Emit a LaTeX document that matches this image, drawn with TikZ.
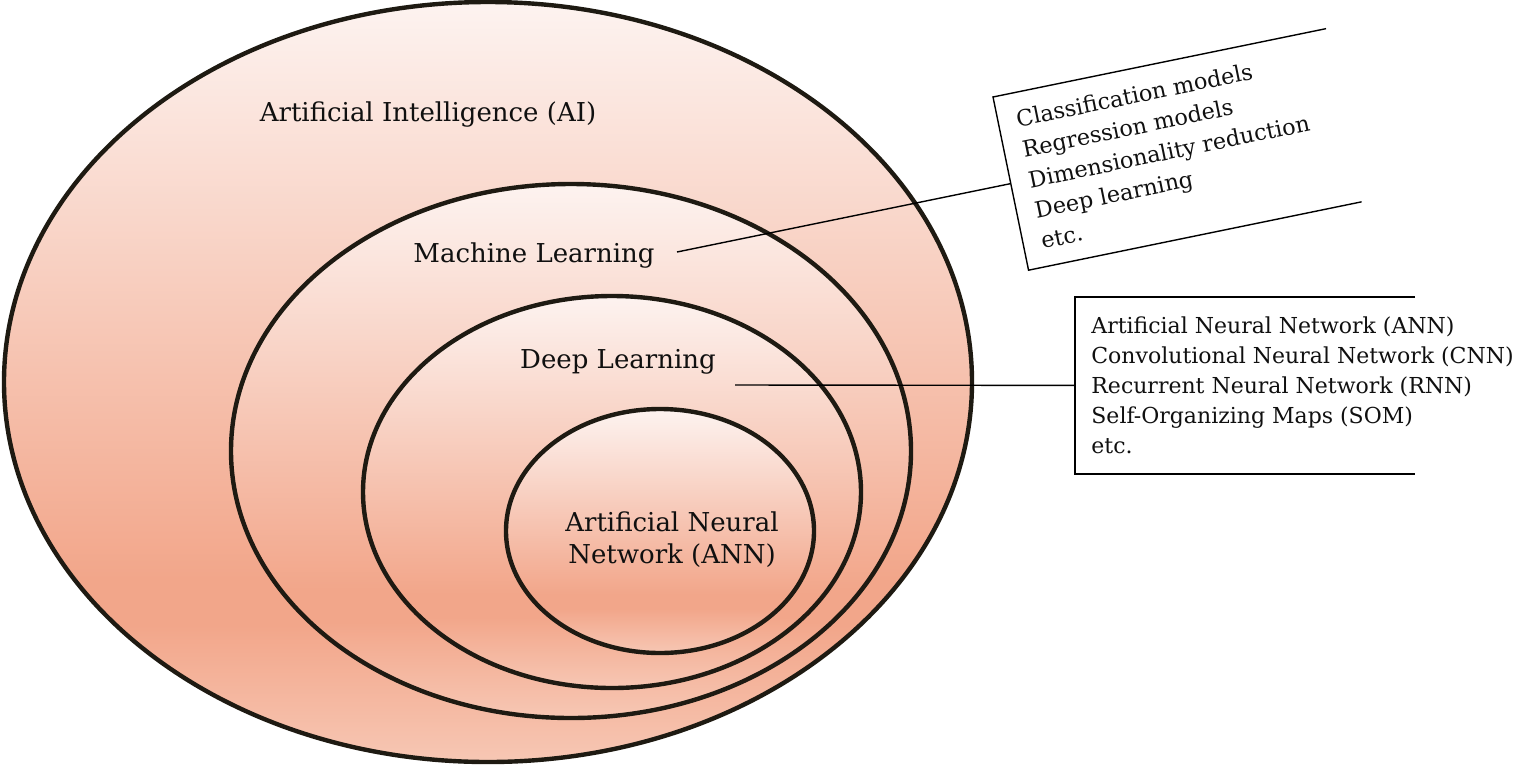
\documentclass[tikz,border=0pt]{standalone}
\usepackage{fontspec}
\setmainfont{DejaVu Serif}
\usetikzlibrary{calc}

\definecolor{ringline}{HTML}{1E1A12}
\definecolor{inktext}{HTML}{101010}
\definecolor{peachtop}{HTML}{FDF3F0}
\definecolor{peachmid}{HTML}{F2A68A}
\definecolor{peachbot}{HTML}{F7C7B4}

% white at the top, salmon about three quarters down, lighter again at the bottom
\pgfdeclareverticalshading{peach}{100bp}{%
  color(0bp)=(peachbot); color(25bp)=(peachbot);
  color(34bp)=(peachmid); color(37bp)=(peachmid);
  color(75bp)=(peachtop); color(100bp)=(peachtop)}

\tikzset{
  ring/.style={draw=ringline, line width=2.2pt, shading=peach},
  ringlabel/.style={text=inktext, font=\fontsize{13}{16}\selectfont, inner sep=0pt, align=center},
  calloutbox/.style={text=inktext, font=\fontsize{11}{15}\selectfont, align=left,
    minimum height=88pt, inner xsep=9pt, inner ysep=0pt},
  calloutline/.style={draw=black, line width=0.7pt},
}

\begin{document}
\begin{tikzpicture}[x=0.5pt, y=-0.5pt]
  \useasboundingbox (0,0) rectangle (1537,767);

  % nested fields
  \path[ring] (488,382) ellipse [x radius=484, y radius=380];
  \path[ring] (571,451) ellipse [x radius=340, y radius=267];
  \path[ring] (612,492) ellipse [x radius=249, y radius=196];
  \path[ring] (660,531) ellipse [x radius=154, y radius=122];

  % field names
  \node[ringlabel] (ai)  at (428,115) {Artificial Intelligence (AI)};
  \node[ringlabel] (ml)  at (534,256) {Machine Learning};
  \node[ringlabel] (dl)  at (618,362) {Deep Learning};
  \node[ringlabel] (ann) at (672,540) {Artificial Neural\\Network (ANN)};

  % machine learning call-out, tilted
  \node[calloutbox, rotate=11.6, anchor=north west, font=\fontsize{11.2}{15.5}\selectfont]
    (mlbox) at (993,97)
    {Classification models\\Regression models\\Dimensionality reduction\\Deep learning\\etc.};
  \draw[calloutline] ($(mlbox.north west)!170pt!(mlbox.north east)$) -- (mlbox.north west)
    -- (mlbox.south west) -- ($(mlbox.south west)!170pt!(mlbox.south east)$);

  % deep learning call-out
  \node[calloutbox, anchor=north west, inner xsep=8pt] (dlbox) at (1075,297)
    {Artificial Neural Network (ANN)\\Convolutional Neural Network (CNN)\\Recurrent Neural Network (RNN)\\Self-Organizing Maps (SOM)\\etc.};
  \draw[calloutline] ($(dlbox.north west)!170pt!(dlbox.north east)$) -- (dlbox.north west)
    -- (dlbox.south west) -- ($(dlbox.south west)!170pt!(dlbox.south east)$);

  % leaders from the field names to their call-outs
  \coordinate (mlpt) at (677,252);
  \coordinate (dlpt) at (735,385);
  \draw[calloutline] (mlpt) -- (mlbox.west);
  \draw[calloutline] (dlpt) -- (dlbox.west);
\end{tikzpicture}
\end{document}
